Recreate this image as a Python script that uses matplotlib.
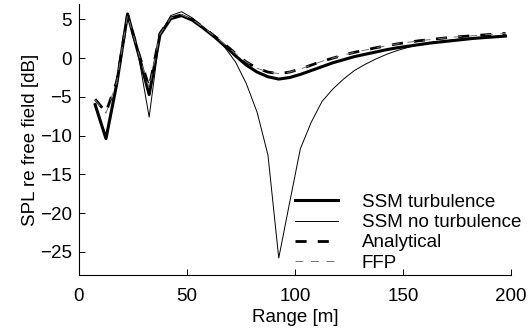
import numpy as np
import matplotlib
matplotlib.use("Agg")
import matplotlib.pyplot as plt

plt.rcParams['font.family'] = ['Liberation Sans', 'DejaVu Sans']

# rango [m], puntos cada 5 m
rango = np.arange(7.5, 200, 5.0)

ssm_turb = [-6.0, -10.4, -3.3, 5.7, 0.6, -4.7, 3.0, 5.1, 5.5, 4.9,
            3.9, 2.8, 1.6, 0.3, -0.9, -1.8, -2.4, -2.7, -2.5, -2.1,
            -1.6, -1.1, -0.6, -0.2, 0.2, 0.5, 0.8, 1.1, 1.35, 1.55,
            1.75, 1.95, 2.1, 2.25, 2.4, 2.55, 2.65, 2.75, 2.85]

ssm_sin_turb = [-6.2, -10.3, -3.3, 5.8, 0.4, -7.6, 3.1, 5.5, 6.0, 5.2,
                4.0, 2.8, 1.4, -0.5, -3.3, -7.0, -12.5, -25.8, -18.7, -11.7,
                -8.3, -5.6, -4.0, -2.7, -1.6, -0.8, -0.1, 0.5, 1.0, 1.4,
                1.75, 2.0, 2.2, 2.35, 2.5, 2.6, 2.7, 2.8, 2.9]

analitico = [-5.3, -7.0, -3.0, 5.6, 0.8, -3.8, 3.2, 5.2, 5.6, 5.0,
             4.0, 2.9, 1.8, 0.6, -0.5, -1.3, -1.8, -2.0, -1.8, -1.4,
             -0.9, -0.4, 0.0, 0.4, 0.75, 1.05, 1.35, 1.6, 1.85, 2.05,
             2.25, 2.4, 2.55, 2.7, 2.8, 2.9, 3.0, 3.1, 3.2]

ffp = [-5.4, -7.1, -3.1, 5.6, 0.7, -3.9, 3.1, 5.2, 5.6, 5.0,
       4.0, 2.9, 1.8, 0.6, -0.5, -1.3, -1.8, -2.0, -1.8, -1.4,
       -0.9, -0.4, 0.0, 0.4, 0.75, 1.05, 1.35, 1.6, 1.85, 2.05,
       2.25, 2.4, 2.55, 2.7, 2.8, 2.9, 3.0, 3.1, 3.2]

etiquetas = ['SSM turbulence', 'SSM no turbulence', 'Analytical', 'FFP']

fs = 13.5

fig = plt.figure(figsize=(5.30, 3.29), dpi=100)
ax = fig.add_axes([0.149, 0.164, 0.815, 0.824])

ax.plot(rango, ssm_turb, color='black', lw=2.2, label=etiquetas[0])
ax.plot(rango, ssm_sin_turb, color='black', lw=0.7, label=etiquetas[1])
ax.plot(rango, analitico, color='black', lw=2.0, dashes=(4, 4), label=etiquetas[2])
ax.plot(rango, ffp, color='0.45', lw=0.7, dashes=(8, 8), label=etiquetas[3])

ax.set_xlim(0, 200)
ax.set_ylim(-28, 7)
ax.set_xticks([0, 50, 100, 150, 200])
ax.set_yticks([-25, -20, -15, -10, -5, 0, 5])
ax.set_yticklabels(['\u221225', '\u221220', '\u221215', '\u221210', '\u22125', '0', '5'])
ax.tick_params(direction='in', length=4, width=0.7, labelsize=fs)
ax.tick_params(axis='x', pad=9)
ax.tick_params(axis='y', pad=5)
for lado in ['top', 'right']:
    ax.spines[lado].set_visible(False)
for lado in ['left', 'bottom']:
    ax.spines[lado].set_linewidth(0.8)

ax.set_xlabel('Range [m]', fontsize=fs, labelpad=3)
ax.set_ylabel('SPL re free field [dB]', fontsize=fs, labelpad=1)

ax.legend(loc='lower left', frameon=False, fontsize=fs, handlelength=2.3,
          handletextpad=1.25, labelspacing=0.17, borderpad=0, borderaxespad=0,
          bbox_to_anchor=(0.5, 0.012))

fig.savefig('out.png', dpi=100)
